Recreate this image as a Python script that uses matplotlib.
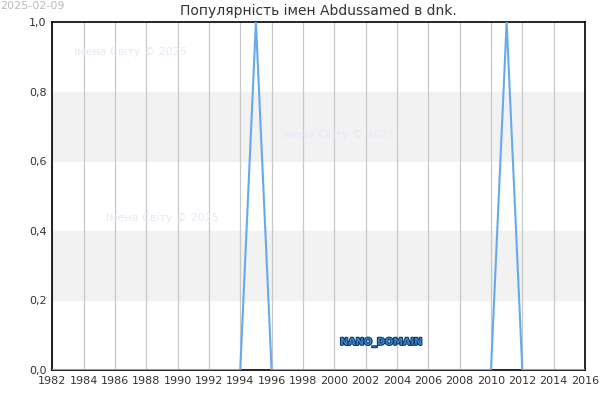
import matplotlib
matplotlib.use('Agg')
from matplotlib import pyplot as plt
import matplotlib.patheffects as pe

years = list(range(1982, 2017))
spike_years = [1995, 2011]
values = [1.0 if y in spike_years else 0.0 for y in years]

x_ticks = list(range(1982, 2017, 2))
y_ticks = [0.0, 0.2, 0.4, 0.6, 0.8, 1.0]
gray_bands = [(0.2, 0.4), (0.6, 0.8)]

title = 'Популярність імен Abdussamed в dnk.'
date_text = '2025-02-09'
watermark = 'Імена Світу © 2025'

fig = plt.figure(figsize=(6, 4), dpi=100)
ax = fig.add_axes([0.087, 0.075, 0.888, 0.87])

for lo, hi in gray_bands:
    ax.axhspan(lo, hi, color='#f2f2f2', zorder=0)

for xt in x_ticks:
    ax.axvline(xt, color='#c8c8c8', lw=0.9, zorder=1)

ax.plot(years, values, color='#66aaee', lw=1.5, zorder=3)

ax.set_xlim(1982, 2016)
ax.set_ylim(0, 1.0)
ax.set_xticks(x_ticks)
ax.set_yticks(y_ticks)
ax.set_yticklabels([f'{v:.1f}'.replace('.', ',') for v in y_ticks])
ax.tick_params(labelsize=8, colors='#333333', length=0, pad=4)
for s in ax.spines.values():
    s.set_color('black')
    s.set_linewidth(1.2)

ax.set_title(title, fontsize=10, color='#333333', pad=5)
fig.text(0.0, 0.997, date_text, fontsize=8, color='#bbbbbb', va='top', ha='left')

for px, py in [(130, 52), (338, 135), (162, 218)]:
    fig.text(px / 600, 1 - py / 400, watermark, fontsize=8, color='#e8e8f8',
             ha='center', va='center')

fig.text(381 / 600, 1 - 342 / 400, 'NANO_DOMAIN', fontsize=7, color='#3a7fc0',
         ha='center', va='center', weight='bold',
         path_effects=[pe.withStroke(linewidth=1.5, foreground='#0b3a66')])

fig.savefig('out.png')
